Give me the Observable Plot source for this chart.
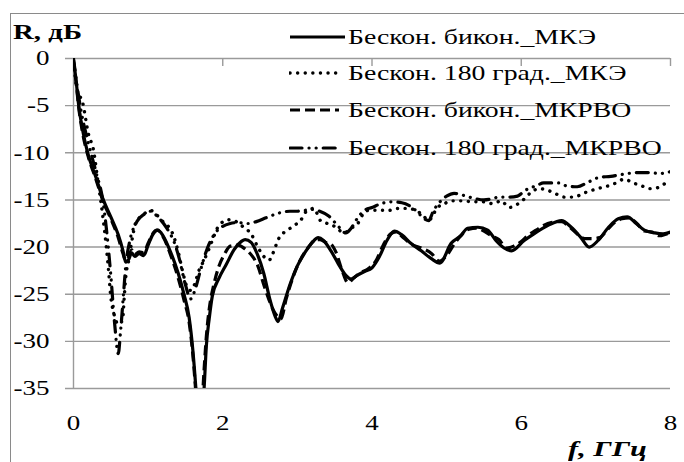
<!DOCTYPE html>
<html>
<head>
<meta charset="utf-8">
<script src="https://cdn.jsdelivr.net/npm/d3@7"></script>
<script src="https://cdn.jsdelivr.net/npm/@observablehq/plot@0.6"></script>
<style>
  html, body { margin: 0; padding: 0; background: #fff; }
  #wrap { position: relative; width: 684px; height: 462px; overflow: hidden; font-family: "Liberation Serif", Tinos, "Times New Roman", "Noto Serif", "DejaVu Serif", serif; color: #000; }
  #border { position: absolute; left: 10px; top: 13px; width: 700px; height: 480px; border-left: 1.5px solid #8a8a8a; border-top: 1.5px solid #8a8a8a; }
  .lbl { position: absolute; white-space: nowrap; transform-origin: left center; line-height: 1; }
  #legend { position: absolute; left: 0; top: 0; }
  .leg-row { position: absolute; left: 289px; height: 30px; }
  .leg-row svg { position: absolute; left: 0; top: 0; }
  .leg-row span { position: absolute; left: 59px; top: 4px; font-size: 22px; white-space: nowrap; transform-origin: left center; line-height: 1; }
</style>
</head>
<body>
<div id="wrap">
  <div id="border"></div>
  <div id="chart"></div>
  <div class="lbl" id="ylab" style="left:13px; top:22px; font-size:21px; font-weight:bold;">R, дБ</div>
  <div class="lbl" id="xlab" style="left:568px; top:438px; font-size:22px; font-weight:bold; font-style:italic;">f, ГГц</div>
  <div id="legend"></div>
</div>
<script>
// ---- data (frequency in GHz, R in dB) ----
const seriesNames = ["Бескон. бикон._МКЭ", "Бескон. 180 град._МКЭ", "Бескон. бикон._МКРВО", "Бескон. 180 град._МКРВО"];
const xTicks = [0, 2, 4, 6, 8];
const yTicks = [0, -5, -10, -15, -20, -25, -30, -35];

const fSolid = [0,0.03,0.07,0.12,0.19,0.3,0.4,0.5,0.6,0.66,0.7,0.74,0.78,0.82,0.88,0.94,1.0,1.06,1.13,1.2,1.3,1.4,1.48,1.55,1.6,1.64,1.68,1.72,1.75,1.78,1.82,1.86,1.95,2.05,2.15,2.25,2.3,2.38,2.45,2.55,2.63,2.7,2.74,2.8,2.9,3.0,3.1,3.2,3.28,3.35,3.45,3.55,3.65,3.72,3.8,3.9,4.0,4.1,4.2,4.3,4.4,4.52,4.66,4.79,4.91,5.06,5.19,5.28,5.42,5.55,5.66,5.77,5.87,6.04,6.17,6.36,6.54,6.67,6.8,6.91,7.03,7.17,7.3,7.42,7.54,7.65,7.79,7.9,8.0];
const rSolid = [-0.3,-2,-5,-7.5,-10,-12.6,-15,-16.8,-18.7,-20.3,-21.6,-21.3,-20.6,-21.0,-20.7,-20.9,-19.8,-18.7,-18.2,-18.8,-20.5,-22.7,-25,-27.5,-31,-35,-40,-38,-35,-30.5,-27.5,-25.2,-23.3,-21.8,-20.3,-19.4,-19.2,-19.5,-20.5,-22.8,-25.5,-27.3,-27.9,-26.5,-24,-22,-20.6,-19.5,-19.0,-19.3,-20.4,-21.8,-23.0,-23.4,-23.0,-22.6,-22.2,-21,-19.3,-18.3,-18.7,-19.6,-20.4,-21.2,-21.7,-19.6,-18.8,-18.0,-17.9,-18.2,-19.3,-20.1,-20.4,-19.3,-18.6,-17.7,-17.2,-17.9,-19.0,-20.0,-19.3,-17.9,-17.0,-16.8,-17.5,-18.2,-18.5,-18.6,-18.4];

const fDashed = [0,0.03,0.07,0.12,0.19,0.3,0.4,0.5,0.6,0.66,0.7,0.74,0.78,0.82,0.88,0.94,1.0,1.06,1.12,1.2,1.3,1.4,1.48,1.55,1.6,1.64,1.68,1.72,1.75,1.78,1.82,1.88,1.95,2.02,2.1,2.2,2.3,2.38,2.47,2.55,2.62,2.7,2.78,2.85,2.95,3.05,3.15,3.25,3.3,3.38,3.45,3.52,3.6,3.68,3.75,3.85,3.95,4.05,4.15,4.25,4.32,4.42,4.55,4.66,4.8,4.9,5.0,5.1,5.2,5.3,5.4,5.5,5.6,5.7,5.8,5.9,6.0,6.1,6.2,6.3,6.4,6.54,6.65,6.75,6.85,6.95,7.05,7.15,7.25,7.35,7.45,7.55,7.65,7.75,7.85,7.95,8.0];
const rDashed = [-0.3,-2.2,-5.2,-7.8,-10.2,-12.8,-15.2,-17,-19,-20.6,-21.4,-21,-20.3,-20.8,-20.5,-20.6,-19.6,-18.6,-18.2,-18.9,-20.8,-23.2,-25.6,-28,-31.5,-35.5,-40,-37,-33,-29.5,-26.5,-24,-22,-20.8,-19.9,-19.8,-20.2,-20.8,-22,-24,-25.6,-27,-27.6,-25.5,-23,-21.2,-20,-19.2,-19.2,-19.5,-19.7,-20.6,-22.5,-23.8,-23.3,-22.7,-22.3,-21.5,-19.8,-18.6,-18.4,-19,-19.8,-20.1,-20.7,-21.5,-20.9,-19.7,-18.7,-18.1,-18.0,-18.3,-18.8,-19.2,-20.1,-19.9,-19.4,-18.7,-18.2,-17.7,-17.4,-17.3,-17.9,-18.6,-19.1,-19.1,-19.0,-18.2,-17.4,-17.0,-16.9,-17.5,-18.3,-18.4,-18.8,-18.6,-18.5];

const fDotted = [0,0.05,0.12,0.2,0.27,0.32,0.4,0.44,0.47,0.5,0.54,0.58,0.62,0.66,0.68,0.7,0.74,0.79,0.83,0.93,1.03,1.13,1.21,1.28,1.33,1.4,1.46,1.52,1.57,1.62,1.68,1.73,1.8,1.86,1.95,2.08,2.18,2.28,2.38,2.47,2.55,2.62,2.67,2.75,2.87,2.96,3.05,3.11,3.22,3.31,3.4,3.52,3.62,3.72,3.81,3.88,3.96,4.1,4.23,4.35,4.46,4.59,4.7,4.76,4.83,4.88,4.97,5.06,5.19,5.37,5.49,5.62,5.73,5.84,5.96,6.04,6.13,6.24,6.36,6.45,6.58,6.71,6.83,6.94,7.07,7.17,7.27,7.38,7.5,7.61,7.72,7.83,7.94,8.0];
const rDotted = [-0.2,-3.4,-4.6,-8,-9.8,-12.6,-17.2,-20,-22.5,-25.3,-27,-28,-28.2,-27.5,-25.3,-23.2,-21.4,-19,-17.5,-16.6,-16.1,-16.7,-17.4,-17.9,-18.6,-20.4,-22.5,-24.2,-24.6,-24,-22.5,-21.7,-20.5,-19.3,-17.7,-17.1,-17.3,-17.9,-18.6,-20,-21,-21.4,-20.7,-19.1,-18.2,-17.7,-17.1,-16.3,-15.9,-17.2,-17.5,-17.9,-18.5,-18.0,-17.5,-16.5,-16.1,-16.1,-16.1,-15.9,-15.9,-16.1,-16.8,-17.2,-16.4,-15.8,-15.4,-15.1,-15.1,-15.2,-15.2,-15.4,-15.1,-15.8,-15.4,-14.9,-14.2,-13.8,-14.0,-14.3,-14.7,-14.7,-14.3,-14.0,-13.7,-13.5,-13.2,-12.8,-13.2,-13.5,-13.8,-13.7,-13.2,-13.0];

const fDashDot = [0,0.05,0.1,0.2,0.3,0.4,0.44,0.5,0.55,0.6,0.63,0.67,0.7,0.75,0.85,0.95,1.03,1.13,1.25,1.35,1.42,1.5,1.57,1.63,1.7,1.8,1.9,2.0,2.1,2.2,2.35,2.45,2.58,2.75,2.9,3.0,3.1,3.2,3.3,3.42,3.56,3.65,3.72,3.8,3.9,4.0,4.12,4.25,4.4,4.5,4.6,4.7,4.76,4.82,4.9,5.0,5.1,5.22,5.35,5.5,5.6,5.7,5.84,5.95,6.05,6.2,6.3,6.5,6.6,6.75,6.9,7.05,7.2,7.35,7.55,7.72,7.85,8.0];
const rDashDot = [0,-3,-5.5,-9,-12,-15.4,-18,-23,-28,-31.3,-29,-25,-22,-19.5,-17.3,-16.5,-16.2,-16.8,-18,-19.5,-21.3,-24,-25.5,-24.5,-22.5,-20,-18.5,-17.8,-17.5,-17.4,-17.5,-17.3,-16.9,-16.4,-16.2,-16.2,-16.1,-16.0,-16.2,-16.7,-17.9,-18.5,-18.0,-17.0,-16.1,-15.8,-15.4,-15.2,-15.3,-15.6,-16.2,-17.0,-17.2,-16.2,-15.3,-14.6,-14.3,-14.5,-14.8,-15.0,-14.9,-14.7,-14.7,-14.6,-14.0,-13.5,-13.2,-13.2,-13.5,-13.6,-13.1,-12.6,-12.5,-12.3,-12.1,-12.1,-12.2,-12.0];

const toRows = (fs, rs) => fs.map((f, i) => ({f, r: rs[i]}));
const styles = [
  {strokeWidth: 3.2, strokeDasharray: null, strokeLinecap: "butt"},
  {strokeWidth: 3.4, strokeDasharray: "0.1,7.5", strokeLinecap: "round"},
  {strokeWidth: 3.2, strokeDasharray: "10,5", strokeLinecap: "butt"},
  {strokeWidth: 3.2, strokeDasharray: "12,7,0.1,7,0.1,7", strokeLinecap: "round"}
];
const datasets = [toRows(fSolid, rSolid), toRows(fDotted, rDotted), toRows(fDashed, rDashed), toRows(fDashDot, rDashDot)];

const lineMarks = datasets.map((d, i) => Plot.line(d, {
  x: "f", y: "r", stroke: "black", curve: "monotone-x", clip: true,
  strokeWidth: styles[i].strokeWidth,
  strokeDasharray: styles[i].strokeDasharray || undefined,
  strokeLinecap: styles[i].strokeLinecap
}));

const FONT = "'Liberation Serif', Tinos, 'Times New Roman', 'Noto Serif', 'DejaVu Serif', serif";
const chart = Plot.plot({
  width: 684, height: 462,
  marginLeft: 73, marginRight: 14, marginTop: 58, marginBottom: 74,
  style: {fontFamily: FONT, fontSize: "21px", color: "#000", background: "transparent", overflow: "visible"},
  x: {domain: [0, 8], label: null},
  y: {domain: [-35, 0], label: null},
  marks: [
    Plot.ruleY(yTicks, {y: d => d, stroke: "#9a9a9a", strokeWidth: 1.4, insetLeft: -8}),
    Plot.ruleX([0], {x: d => d, stroke: "#9a9a9a", strokeWidth: 1.4}),
    Plot.ruleX(xTicks.slice(1), {x: d => d, y1: 0, y2: 0, insetBottom: -8, stroke: "#9a9a9a", strokeWidth: 1.4}),
    Plot.axisY(yTicks, {anchor: "left", tickSize: 0, tickPadding: 24, tickFormat: d => String(d), fill: "black", label: null}),
    Plot.axisX(xTicks, {anchor: "bottom", tickSize: 0, tickPadding: 27, tickFormat: d => String(d), fill: "black", label: null}),
    ...lineMarks
  ]
});
document.getElementById("chart").appendChild(chart);
chart.querySelectorAll("text").forEach(t => t.style.fontFamily = FONT);

// horizontal stretch of tick labels so that "-10" is about 36px wide, as in the reference
const tickTexts = [...chart.querySelectorAll("g[aria-label$='tick label'] text")];
const ref10 = tickTexts.find(t => t.textContent === "-10");
const tickScale = ref10 ? 36 / ref10.getComputedTextLength() : 1;
tickTexts.forEach(t => {
  const w = t.getComputedTextLength();
  t.setAttribute("textLength", (w * tickScale).toFixed(1));
  t.setAttribute("lengthAdjust", "spacingAndGlyphs");
});

// axis titles stretched to reference widths
function fitWidth(el, target) {
  const w = el.getBoundingClientRect().width;
  el.style.transform = `scaleX(${target / w})`;
}
fitWidth(document.getElementById("ylab"), 69);
fitWidth(document.getElementById("xlab"), 79);

// legend
const legendTops = [22, 58, 95, 133];
const legend = document.getElementById("legend");
const spans = [];
seriesNames.forEach((name, i) => {
  const row = document.createElement("div");
  row.className = "leg-row";
  row.style.top = legendTops[i] + "px";
  const s = styles[i];
  const len = [56, 51, 50, 53][i];
  row.innerHTML = `<svg width="60" height="30"><line x1="1" y1="15" x2="${len}" y2="15" stroke="black" stroke-width="${s.strokeWidth}" stroke-linecap="${s.strokeLinecap}" ${s.strokeDasharray ? `stroke-dasharray="${s.strokeDasharray}"` : ""}/></svg><span>${name}</span>`;
  legend.appendChild(row);
  spans.push(row.querySelector("span"));
});
const legScale = 248 / spans[0].getBoundingClientRect().width;
spans.forEach(s => s.style.transform = `scaleX(${legScale})`);
</script>
</body>
</html>
